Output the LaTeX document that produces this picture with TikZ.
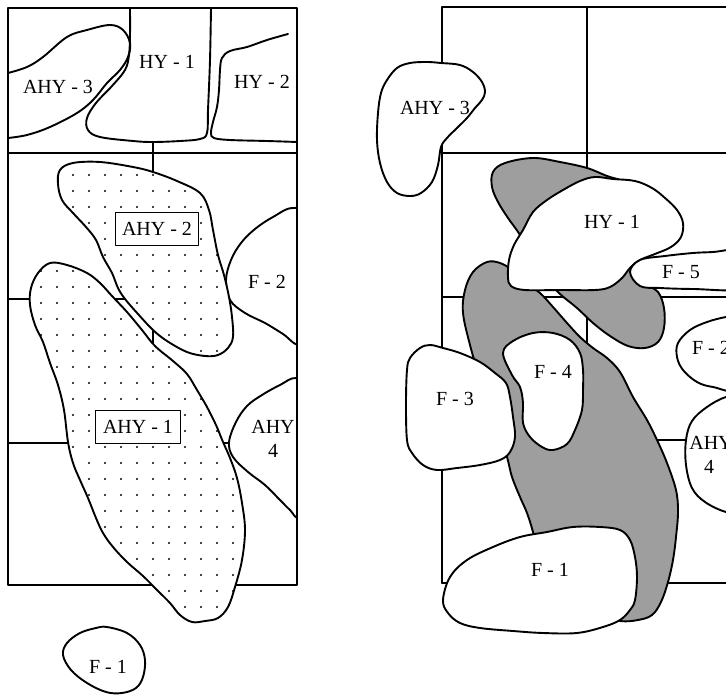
\documentclass[tikz,border=0pt]{standalone}
\usepackage{fontspec}
\setmainfont{Liberation Serif}
\begin{document}
\begin{tikzpicture}[x=1pt,y=-1pt, line width=1.9pt, line join=round, line cap=round,
  blob/.style={draw=black, fill=white},
  shaded/.style={draw=black, fill=black!38},
  dotblob/.style={draw=black, fill=white, path picture={
      \foreach \xx in {9,25,...,297} {\foreach \yy in {159,175,...,640} {\fill[black] (\xx,\yy) circle (1.2pt);}}}},
  lbl/.style={font=\fontsize{20}{23}\selectfont, inner sep=0pt},
  boxlbl/.style={font=\fontsize{20}{23}\selectfont, draw, fill=white, line width=1.6pt, minimum height=33pt, inner sep=0pt},
  gridline/.style={draw=black, line width=1.9pt},
  sm/.style={smooth cycle, tension=0.6},
  so/.style={smooth, tension=0.6}]
\useasboundingbox (0,0) rectangle (726,695);

% ================= LEFT PANEL =================
\draw[gridline] (8,153) -- (297,153);
\draw[gridline] (8,299) -- (297,299);
\draw[gridline] (8,443) -- (297,443);
\draw[gridline] (153,142) -- (153,443);

\begin{scope}
\clip (8,8) rectangle (297,585);
% F-2 (left)
\path[blob] plot[sm] coordinates {(294,208) (273,217) (255,229) (241,243) (231,260) (226,280) (230,300) (245,313) (265,323) (283,334) (300,345) (320,330) (320,220)};
% AHY-4 (left)
\path[blob] plot[sm] coordinates {(297,378) (280,385) (262,395) (247,406) (236,422) (229,442) (233,457) (248,472) (265,485) (280,500) (290,510) (300,518) (320,500) (320,390)};
\end{scope}
\draw[gridline] (8,8) rectangle (297,585);

% AHY-2 dotted
\path[dotblob] plot[sm] coordinates {(60,170) (73,163) (100,162) (133,167) (153,172) (177,181) (200,193) (209,210) (213,230) (218,255) (224,275) (229,297) (232,317) (233,337) (228,348) (218,355) (205,356) (187,352) (167,341) (153,330) (138,314) (125,299) (118,288) (112,273) (103,257) (96,240) (86,227) (73,213) (62,200) (58,184)};
% AHY-1 dotted
\path[dotblob] plot[sm] coordinates {(50,263) (67,265) (87,273) (100,283) (112,296) (127,312) (142,330) (155,346) (173,361) (187,374) (197,390) (207,407) (216,425) (223,442) (230,458) (237,478) (242,503) (245,530) (242,560) (235,587) (228,607) (218,618) (205,621) (192,622) (180,615) (170,603) (157,590) (143,576) (127,562) (113,547) (103,533) (96,518) (88,498) (80,480) (73,463) (68,442) (64,410) (58,385) (50,363) (43,342) (35,325) (30,305) (31,288) (38,273)};

% top section outlines
\draw plot[so] coordinates {(8,73) (27,67) (43,57) (67,37) (87,30) (110,25) (123,30) (130,43) (128,57) (120,70) (107,83) (93,100) (77,113) (50,127) (27,135) (8,138)};
\draw plot[so] coordinates {(130,8) (130,35) (129,55) (125,70) (112,86) (96,103) (87,118) (88,130) (100,137) (133,141) (153,142) (180,141) (200,139) (207,133) (208,110) (210,60) (211,8)};
\draw plot[so] coordinates {(288,34) (267,40) (247,47) (230,51) (222,58) (220,70) (219,90) (217,107) (213,122) (211,133) (214,138) (230,140) (267,141) (297,142)};

% F-1 (left)
\path[blob] plot[sm] coordinates {(107,627) (127,633) (140,645) (145,660) (143,677) (136,688) (122,693) (106,692) (87,683) (71,670) (63,655) (67,643) (80,633) (96,628)};

\node[lbl] (lahy3) at (58,87) {AHY - 3};
\node[lbl] (lhy1) at (167,62) {HY - 1};
\node[lbl] (lhy2) at (262,82) {HY - 2};
\node[boxlbl, minimum width=83pt] (lahy2) at (157,229) {AHY - 2};
\node[boxlbl, minimum width=85pt] (lahy1) at (138,427) {AHY - 1};
\node[lbl] (lf2) at (267,282) {F - 2};
\node[lbl] (lahy4a) at (273,427) {AHY};
\node[lbl] (lahy4b) at (273,451) {4};
\node[lbl] (lf1) at (108,667) {F - 1};

% ================= RIGHT PANEL =================
\draw[gridline] (442,7) -- (740,7);
\draw[gridline] (442,7) -- (442,583);
\draw[gridline] (442,583) -- (740,583);
\draw[gridline] (442,153) -- (740,153);
\draw[gridline] (442,297) -- (740,297);
\draw[gridline] (442,440) -- (740,440);
\draw[gridline] (587,7) -- (587,440);

% AHY-3 (right)
\path[blob] plot[sm] coordinates {(441,63) (460,65) (473,72) (482,82) (485,92) (482,100) (475,108) (467,118) (457,128) (447,138) (441,147) (438,165) (432,182) (421,193) (410,196) (397,193) (387,182) (380,163) (377,140) (378,113) (381,93) (387,80) (397,68) (410,63) (427,62)};

% gray AHY-2
\path[shaded] plot[sm] coordinates {(493,172) (505,163) (533,158) (560,162) (587,168) (607,176) (625,182) (645,195) (655,220) (650,250) (640,268) (645,283) (658,292) (664,308) (664,328) (658,342) (645,348) (628,346) (610,336) (593,323) (577,308) (560,294) (545,278) (530,255) (520,235) (508,218) (498,202) (492,187)};
% gray AHY-1
\path[shaded] plot[sm] coordinates {(463,313) (465,290) (473,272) (487,262) (500,263) (512,270) (525,282) (540,293) (553,307) (567,323) (580,337) (593,348) (607,358) (620,372) (633,397) (647,420) (657,440) (667,463) (676,490) (678,512) (676,537) (673,560) (668,582) (661,602) (652,615) (638,620) (620,621) (590,615) (560,600) (540,560) (533,532) (527,513) (520,497) (512,477) (507,457) (498,430) (488,400) (478,372) (470,345)};

% HY-1 (right)
\path[blob] plot[sm] coordinates {(523,230) (533,212) (547,200) (563,190) (580,181) (595,177) (613,179) (635,181) (652,188) (665,198) (677,210) (683,223) (681,237) (671,247) (655,254) (640,260) (630,268) (622,278) (610,287) (595,290) (560,290) (525,290) (511,286) (508,277) (509,260) (514,245)};
% F-5
\path[blob] plot[sm] coordinates {(630,272) (640,260) (665,256) (693,253) (713,252) (745,250) (760,270) (745,289) (693,289) (660,288) (640,286)};
% F-3
\path[blob] plot[sm] coordinates {(407,370) (406,403) (407,440) (412,453) (423,465) (437,470) (457,468) (480,465) (500,460) (510,452) (515,437) (513,417) (510,397) (506,383) (495,373) (480,362) (460,353) (443,348) (430,345) (420,348) (410,358)};
% F-4
\path[blob] plot[sm] coordinates {(503,353) (513,341) (533,333) (553,333) (570,340) (580,353) (583,370) (583,390) (582,410) (575,430) (567,444) (553,450) (542,447) (530,437) (523,423) (523,403) (520,387) (512,375)};
% F-1 (right)
\path[blob] plot[sm] coordinates {(443,600) (450,577) (467,560) (493,547) (520,537) (547,532) (573,527) (600,527) (620,530) (630,540) (635,557) (637,577) (635,600) (630,610) (620,620) (603,627) (577,633) (543,633) (513,631) (480,628) (460,623) (448,613)};
% F-2 (right)
\path[blob] plot[sm] coordinates {(726,317) (707,322) (690,330) (678,343) (677,357) (683,370) (697,382) (713,387) (740,389) (760,350) (740,316)};
% AHY-4 (right)
\path[blob] plot[sm] coordinates {(726,397) (707,407) (692,421) (686,440) (686,465) (692,488) (705,502) (726,512) (745,513) (760,455) (745,396)};

\node[lbl] (rahy3) at (435,108) {AHY - 3};
\node[lbl] (rhy1) at (612,222) {HY - 1};
\node[lbl] (rf5) at (681,272) {F - 5};
\node[lbl] (rf2) at (711,348) {F - 2};
\node[lbl] (rf4) at (553,372) {F - 4};
\node[lbl] (rf3) at (455,399) {F - 3};
\node[lbl] (rahy4a) at (711,443) {AHY};
\node[lbl] (rahy4b) at (709,467) {4};
\node[lbl] (rf1) at (550,570) {F - 1};
\end{tikzpicture}
\end{document}
